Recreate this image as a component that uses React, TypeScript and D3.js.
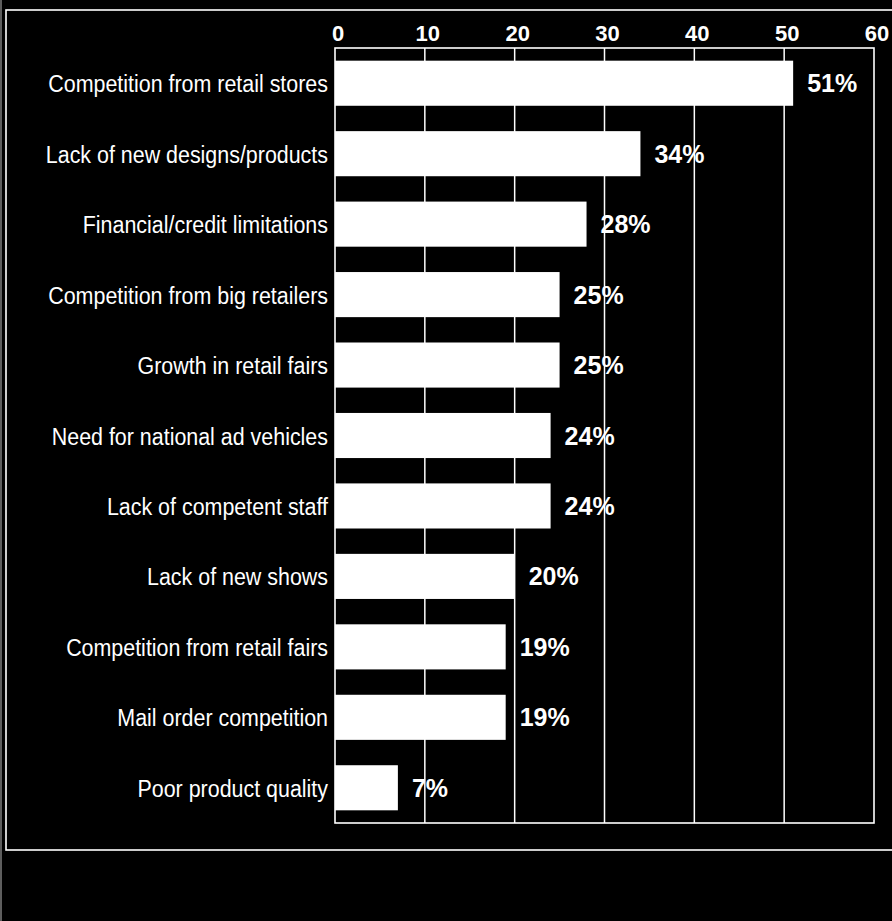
import React from "react";
import * as d3 from "d3";

const categories = [
  "Competition from retail stores",
  "Lack of new designs/products",
  "Financial/credit limitations",
  "Competition from big retailers",
  "Growth in retail fairs",
  "Need for national ad vehicles",
  "Lack of competent staff",
  "Lack of new shows",
  "Competition from retail fairs",
  "Mail order competition",
  "Poor product quality",
];
const values = [51, 34, 28, 25, 25, 24, 24, 20, 19, 19, 7];
const tickValues = [0, 10, 20, 30, 40, 50, 60];

const W = 892;
const H = 921;
const left = 335;
const right = 874;
const top = 48;
const bottom = 823;
const FONT = "'Liberation Sans', Arial, Helvetica, sans-serif";

export default function App() {
  const x = d3.scaleLinear().domain([0, 60]).range([left, right]);
  const y = d3
    .scaleBand<string>()
    .domain(categories)
    .range([top, bottom])
    .paddingInner(0.36)
    .paddingOuter(0.18);
  const bw = y.bandwidth();

  return (
    <svg
      width={W}
      height={H}
      style={{ position: "fixed", left: 0, top: 0, display: "block", background: "#000" }}
    >
      <rect x={0} y={0} width={W} height={H} fill="#000" />
      {/* outer frame */}
      <line x1={1} y1={0} x2={1} y2={H} stroke="#bbb" strokeWidth={1} />
      <rect x={6} y={10} width={W + 20} height={840} fill="none" stroke="#fff" strokeWidth={1.6} />

      {/* gridlines */}
      {tickValues.slice(1, -1).map((t) => (
        <line key={t} x1={x(t)} x2={x(t)} y1={top} y2={bottom} stroke="#fff" strokeWidth={1.5} />
      ))}
      {/* plot border */}
      <rect
        x={left}
        y={top}
        width={right - left}
        height={bottom - top}
        fill="none"
        stroke="#fff"
        strokeWidth={1.6}
      />

      {/* tick labels */}
      {tickValues.map((t) => (
        <text
          key={t}
          x={x(t) + 3}
          y={41}
          textAnchor="middle"
          fill="#fff"
          fontFamily={FONT}
          fontWeight="bold"
          fontSize={22}
        >
          {t}
        </text>
      ))}

      {/* bars */}
      {categories.map((c, i) => {
        const yy = y(c) as number;
        return (
          <g key={c}>
            <rect x={x(0)} y={yy} width={x(values[i]) - x(0)} height={bw} fill="#fff" />
            <text
              x={x(values[i]) + 14}
              y={yy + bw / 2 + 9}
              fill="#fff"
              fontFamily={FONT}
              fontWeight="bold"
              fontSize={25}
            >
              {values[i]}%
            </text>
            <text
              transform={`translate(${left - 7},${yy + bw / 2 + 9}) scale(0.875,1)`}
              textAnchor="end"
              fill="#fff"
              fontFamily={FONT}
              fontSize={24.5}
            >
              {c}
            </text>
          </g>
        );
      })}
    </svg>
  );
}
